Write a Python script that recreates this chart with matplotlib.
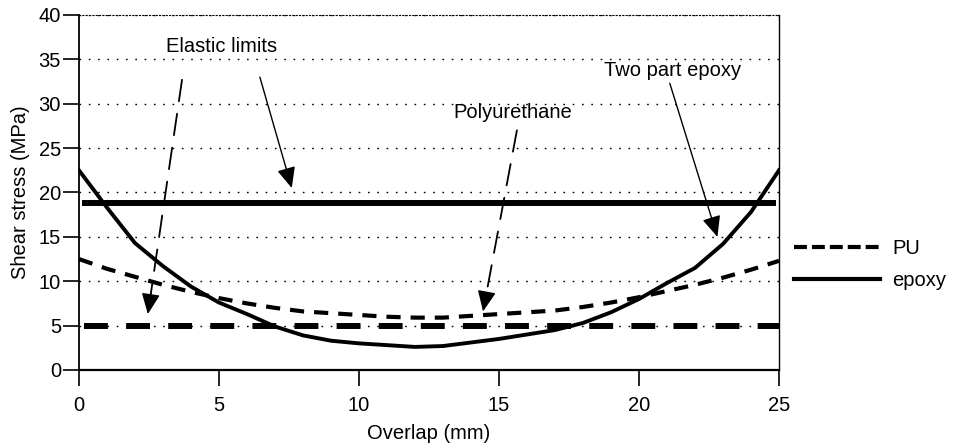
import matplotlib
matplotlib.use("Agg")
import matplotlib.pyplot as plt
from matplotlib.lines import Line2D

plt.rcParams['font.family'] = ['Liberation Sans', 'DejaVu Sans']
FS = 14.5

# ---- data ----
overlap = list(range(0, 26))
epoxy = [22.5, 18.3, 14.3, 11.7, 9.4, 7.6, 6.3, 4.9, 3.9, 3.3, 3.0, 2.8, 2.6,
         2.7, 3.1, 3.5, 4.0, 4.5, 5.3, 6.5, 8.0, 9.8, 11.5, 14.2, 17.8, 22.5]
pu = [12.5, 11.4, 10.5, 9.6, 8.8, 8.1, 7.5, 7.0, 6.6, 6.4, 6.2, 6.0, 5.9,
      5.9, 6.1, 6.3, 6.5, 6.7, 7.1, 7.6, 8.2, 8.9, 9.6, 10.4, 11.3, 12.3]
elastic_epoxy_x = [0.1, 24.9]
elastic_epoxy_y = [18.8, 18.8]
elastic_pu_x = [0.18, 25.0]
elastic_pu_y = [5.0, 5.0]
xticks = [0, 5, 10, 15, 20, 25]
yticks = [0, 5, 10, 15, 20, 25, 30, 35, 40]

# annotations: (text, text_xy, [(start, tip, style), ...])
ann_elastic = ("Elastic limits", (5.1, 36.5),
               [((3.68, 32.7), (2.46, 6.3), 'dash'), ((6.46, 33.0), (7.6, 20.5), 'solid')])
ann_pu = ("Polyurethane", (15.5, 29.0), [((15.64, 27.0), (14.43, 6.6), 'dash')])
ann_epoxy = ("Two part epoxy", (21.2, 33.8), [((21.1, 32.3), (22.8, 15.0), 'solid')])

fig = plt.figure(figsize=(9.55, 4.43), dpi=100)
ax = fig.add_axes([0.0827, 0.1648, 0.733, 0.8014])

# grid dotted lines
for yv in yticks[1:]:
    ax.axhline(yv, color='black', lw=1.0, linestyle=(0, (1.2, 5.5)), zorder=1)

ax.plot(elastic_epoxy_x, elastic_epoxy_y, color='black', lw=4.3, solid_capstyle='butt', zorder=3)
ax.plot(elastic_pu_x, elastic_pu_y, color='black', lw=4.3, linestyle=(0, (4.0, 3.05)),
        dash_capstyle='butt', zorder=3)
ax.plot(overlap, pu, color='black', lw=3.0, linestyle=(0, (3.4, 2.4)),
        dash_capstyle='butt', zorder=4)
ax.plot(overlap, epoxy, color='black', lw=2.8, zorder=5)

ax.set_xlim(0, 25)
ax.set_ylim(0, 40)
ax.set_xticks(xticks)
ax.set_yticks(yticks)
ax.tick_params(axis='both', direction='out', length=11.5, width=1.2, labelsize=FS,
               colors='black')
ax.tick_params(axis='x', pad=7.5)
ax.tick_params(axis='y', pad=1.5)
ax.spines['top'].set_linestyle((0, (1, 2)))
ax.spines['top'].set_linewidth(0.8)
ax.spines['right'].set_linewidth(1.0)
ax.spines['left'].set_linewidth(1.3)
ax.spines['bottom'].set_linewidth(1.6)
ax.set_xlabel('Overlap (mm)', fontsize=FS, labelpad=6)
ax.set_ylabel('Shear stress (MPa)', fontsize=FS, labelpad=6)

HEAD = '-|>,head_length=0.85,head_width=0.38'


def draw_ann(ann):
    text, txy, arrows = ann
    ax.text(txy[0], txy[1], text, ha='center', va='center', fontsize=FS, zorder=6)
    for start, tip, style in arrows:
        if style == 'dash':
            ax.annotate('', xy=tip, xytext=start,
                        arrowprops=dict(arrowstyle='-', color='black', lw=1.3,
                                        linestyle=(0, (12, 7)), shrinkA=0, shrinkB=8))
            ax.annotate('', xy=tip, xytext=(tip[0] + (start[0] - tip[0]) * 0.09,
                                            tip[1] + (start[1] - tip[1]) * 0.09),
                        arrowprops=dict(arrowstyle=HEAD, color='black', lw=1.0,
                                        shrinkA=0, shrinkB=0, mutation_scale=15))
        else:
            ax.annotate('', xy=tip, xytext=start,
                        arrowprops=dict(arrowstyle=HEAD, color='black', lw=1.0,
                                        shrinkA=0, shrinkB=0, mutation_scale=15))


for a in (ann_elastic, ann_pu, ann_epoxy):
    draw_ann(a)

h_pu = Line2D([], [], color='black', lw=3.0, linestyle=(0, (3.1, 1.2)), dash_capstyle='butt')
h_ep = Line2D([], [], color='black', lw=3.0)
fig.legend(handles=[h_pu, h_ep], labels=['PU', 'epoxy'], loc='center left',
           bbox_to_anchor=(0.812, 0.403), frameon=False, fontsize=FS,
           handlelength=4.3, labelspacing=0.62, handletextpad=0.6)

fig.savefig('out.png', dpi=100)
